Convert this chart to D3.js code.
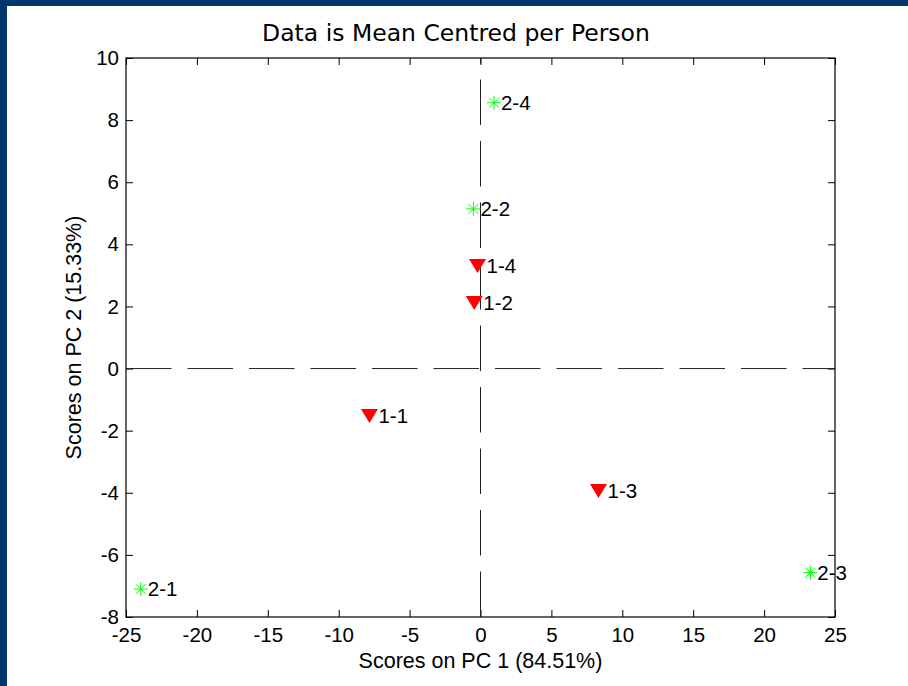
<!DOCTYPE html>
<html>
<head>
<meta charset="utf-8">
<script src="https://cdn.jsdelivr.net/npm/d3@7"></script>
<style>
  html, body { margin: 0; padding: 0; background: #fff; }
  #chart { width: 908px; height: 686px; }
  text { font-family: "Liberation Sans", Arial, sans-serif; fill: #000; }
  .title { font-family: "DejaVu Sans", Verdana, sans-serif; }
</style>
</head>
<body>
<div id="chart"></div>
<script>
// scores on the first two principal components
const labels = ["1-1", "1-2", "1-3", "1-4", "2-1", "2-2", "2-3", "2-4"];
const pc1 = [-7.83, -0.44, 8.32, -0.21, -23.96, -0.5, 23.26, 0.95];
const pc2 = [-1.53, 2.11, -3.94, 3.30, -7.1, 5.14, -6.57, 8.56];
const group = [1, 1, 1, 1, 2, 2, 2, 2];

const xTicks = [-25, -20, -15, -10, -5, 0, 5, 10, 15, 20, 25];
const yTicks = [-8, -6, -4, -2, 0, 2, 4, 6, 8, 10];

const width = 908, height = 686;
const margin = { top: 58, right: 73, bottom: 69, left: 126 };

const svg = d3.select("#chart")
    .append("svg")
    .attr("width", width)
    .attr("height", height);

// dark frame at top and left
svg.append("rect").attr("x", 0).attr("y", 0).attr("width", width).attr("height", 6).attr("fill", "#00376b");
svg.append("rect").attr("x", 0).attr("y", 0).attr("width", 7).attr("height", height).attr("fill", "#00376b");

const x = d3.scaleLinear().domain([-25, 25]).range([margin.left, width - margin.right]);
const y = d3.scaleLinear().domain([-8, 10]).range([height - margin.bottom, margin.top]);

const tickLen = 7;
const tickFont = 20.5;
const labelFont = 21.5;

// plain hyphen minus like the original
const fmt = d => String(d);

const xAxis = svg.append("g")
    .attr("transform", `translate(0,${y(-8)})`)
    .call(d3.axisBottom(x).tickValues(xTicks).tickSize(-tickLen).tickPadding(10).tickFormat(fmt));
const yAxis = svg.append("g")
    .attr("transform", `translate(${x(-25)},0)`)
    .call(d3.axisLeft(y).tickValues(yTicks).tickSize(-tickLen).tickPadding(7).tickFormat(fmt));
// top and right ticks only
const xTop = svg.append("g")
    .attr("transform", `translate(0,${y(10)})`)
    .call(d3.axisTop(x).tickValues(xTicks).tickSize(-tickLen).tickFormat(""));
const yRight = svg.append("g")
    .attr("transform", `translate(${x(25)},0)`)
    .call(d3.axisRight(y).tickValues(yTicks).tickSize(-tickLen).tickFormat(""));

[xAxis, yAxis, xTop, yRight].forEach(g => {
    g.select(".domain").remove();
    g.selectAll("line").attr("stroke", "#000");
    g.selectAll("text").style("font-size", tickFont + "px").attr("fill", "#000");
});
xAxis.selectAll("text").attr("dy", "0.72em");

// box
svg.append("rect")
    .attr("x", x(-25)).attr("y", y(10))
    .attr("width", x(25) - x(-25)).attr("height", y(-8) - y(10))
    .attr("fill", "none").attr("stroke", "#000").attr("stroke-width", 1.2);

// zero lines
svg.append("line")
    .attr("x1", x(-25)).attr("x2", x(25)).attr("y1", y(0)).attr("y2", y(0))
    .attr("stroke", "#222").attr("stroke-dasharray", "45.5 16");
svg.append("line")
    .attr("x1", x(0)).attr("x2", x(0)).attr("y1", y(-8)).attr("y2", y(10))
    .attr("stroke", "#222").attr("stroke-dasharray", "45.5 16");

const points = labels.map((l, i) => ({ label: l, x: pc1[i], y: pc2[i], group: group[i] }));

const triangle = "M-8.5,-7L8.5,-7L0,7Z";
const star = "M-7,0H7M0,-7V7M-5,-5L5,5M-5,5L5,-5";

const marks = svg.append("g").selectAll("g")
    .data(points)
    .join("g")
    .attr("transform", d => `translate(${x(d.x)},${y(d.y)})`);

marks.filter(d => d.group === 1).append("path")
    .attr("d", triangle)
    .attr("fill", "#ff0000");

marks.filter(d => d.group === 2).append("path")
    .attr("d", star)
    .attr("fill", "none")
    .attr("stroke", "#00ff00")
    .attr("stroke-width", 1);

marks.append("text")
    .attr("x", d => d.group === 1 ? 9 : 7)
    .attr("dy", "0.36em")
    .style("font-size", tickFont + "px")
    .text(d => d.label);

// titles
svg.append("text")
    .attr("class", "title")
    .attr("x", 456).attr("y", 41)
    .attr("text-anchor", "middle")
    .style("font-size", "23.5px")
    .text("Data is Mean Centred per Person");

svg.append("text")
    .attr("x", (x(-25) + x(25)) / 2).attr("y", 668)
    .attr("text-anchor", "middle")
    .style("font-size", labelFont + "px")
    .text("Scores on PC 1 (84.51%)");

svg.append("text")
    .attr("transform", `translate(81,${(y(-8) + y(10)) / 2}) rotate(-90)`)
    .attr("text-anchor", "middle")
    .style("font-size", labelFont + "px")
    .text("Scores on PC 2 (15.33%)");
</script>
</body>
</html>
